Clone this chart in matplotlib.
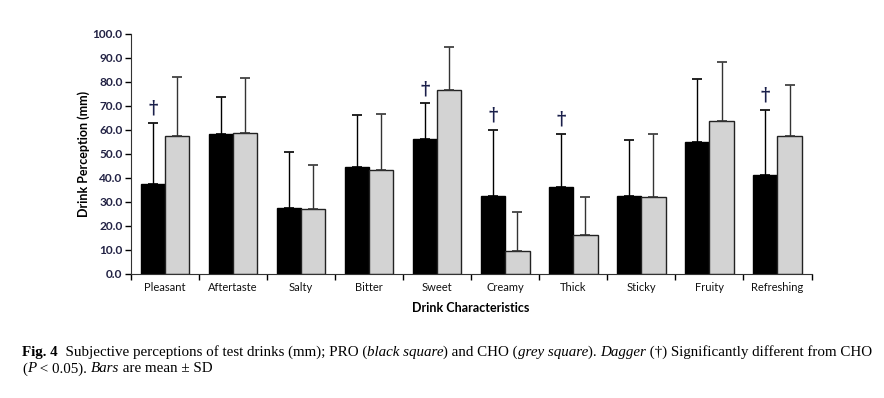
import numpy as np
import matplotlib
matplotlib.use('Agg')
import matplotlib.pyplot as plt
from matplotlib.offsetbox import TextArea, HPacker, AnchoredOffsetbox

# data (mm)
categories = ['Pleasant', 'Aftertaste', 'Salty', 'Bitter', 'Sweet',
              'Creamy', 'Thick', 'Sticky', 'Fruity', 'Refreshing']
pro_mean = [37.6, 58.2, 27.6, 44.7, 56.4, 32.5, 36.3, 32.6, 55.1, 41.1]
pro_sd = [25.4, 15.3, 23.4, 21.3, 14.6, 27.4, 21.9, 23.1, 25.9, 27.1]
cho_mean = [57.6, 58.6, 27.0, 43.2, 76.8, 9.7, 16.1, 32.0, 63.6, 57.6]
cho_sd = [24.5, 22.8, 18.3, 23.6, 17.8, 16.0, 15.9, 26.2, 24.7, 21.3]
significant = [True, False, False, False, True, True, True, False, False, True]

label_font = 'Lato'
navy = '#1a1f4a'

fig = plt.figure(figsize=(8.84, 3.98), dpi=100)
ax = fig.add_axes([0.148, 0.3116, 0.77, 0.6034])

x = np.arange(len(categories))
w = 0.357
err_kw = dict(capsize=3.5, elinewidth=1.0, capthick=1.2)

ax.bar(x - w / 2, pro_mean, w, color='black', edgecolor='black', linewidth=1,
       yerr=[np.zeros(len(x)), pro_sd], ecolor='black', error_kw=err_kw, zorder=2)
ax.bar(x + w / 2, cho_mean, w, color='#d3d3d3', edgecolor='#222222', linewidth=1,
       yerr=[np.zeros(len(x)), cho_sd], ecolor='#333333', error_kw=err_kw, zorder=2)

# dagger over PRO bars that differ from CHO
for i, sig in enumerate(significant):
    if sig:
        ax.text(x[i] - w / 2, pro_mean[i] + pro_sd[i] + 6, '\u2020', ha='center', va='center',
                fontsize=13, fontweight='bold', color=navy, family='DejaVu Serif')

ax.set_xlim(-0.5, len(categories) - 0.5)
ax.set_ylim(0, 100)
ax.set_yticks(np.arange(0, 101, 10))
ax.set_yticklabels(['%.1f' % v for v in np.arange(0, 101, 10)],
                   fontsize=8.6, fontweight='bold', color='#222244', family=label_font)

# ticks at category boundaries, labels in between
ax.set_xticks(np.arange(-0.5, len(categories), 1))
ax.set_xticklabels([])
ax.set_xticks(x, minor=True)
ax.set_xticklabels(categories, minor=True, fontsize=8, family=label_font, color='#111111')
ax.tick_params(axis='x', which='minor', length=0, pad=6)
ax.tick_params(axis='x', which='major', length=4, direction='out', width=1)
ax.tick_params(axis='y', length=4, direction='out', width=1, pad=2)

for s in ['top', 'right']:
    ax.spines[s].set_visible(False)
ax.spines['left'].set_color('#333333')
ax.spines['bottom'].set_color('#333333')

ax.set_xlabel('Drink Characteristics', fontsize=9, fontweight='bold', family=label_font, labelpad=6)
ax.set_ylabel('Drink Perception (mm)', fontsize=9, fontweight='bold', family=label_font, labelpad=2)

# caption
serif = 'Liberation Serif'
def piece(t, weight='normal', style='normal'):
    return TextArea(t, textprops=dict(family=serif, fontsize=10.8, fontweight=weight, fontstyle=style))

line1 = HPacker(children=[
    piece('Fig. 4', weight='bold'),
    piece('  Subjective perceptions of test drinks (mm); PRO ('),
    piece('black square', style='italic'),
    piece(') and CHO ('),
    piece('grey square', style='italic'),
    piece('). '),
    piece('Dagger', style='italic'),
    piece(' (\u2020) Significantly different from CHO'),
], pad=0, sep=0, align='baseline')
line2 = HPacker(children=[
    piece('('),
    piece('P', style='italic'),
    piece(' < 0.05). '),
    piece('Bars', style='italic'),
    piece(' are mean \u00b1 SD'),
], pad=0, sep=0, align='baseline')

box1 = AnchoredOffsetbox(loc='upper left', child=line1, pad=0, frameon=False,
                         bbox_to_anchor=(0.025, 0.133), bbox_transform=fig.transFigure, borderpad=0)
box2 = AnchoredOffsetbox(loc='upper left', child=line2, pad=0, frameon=False,
                         bbox_to_anchor=(0.025, 0.090), bbox_transform=fig.transFigure, borderpad=0)
fig.add_artist(box1)
fig.add_artist(box2)

fig.savefig('out.png', dpi=100)
